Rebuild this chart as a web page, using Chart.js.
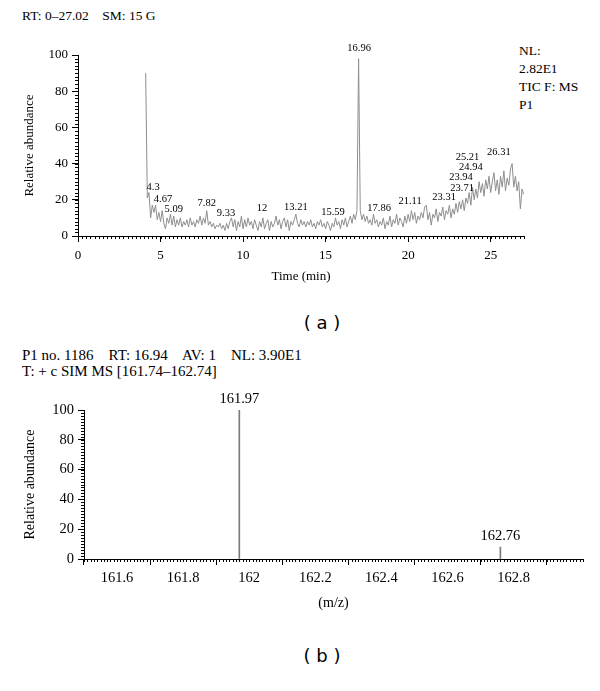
<!DOCTYPE html>
<html>
<head>
<meta charset="utf-8">
<script src="https://cdn.jsdelivr.net/npm/chart.js@4.4.0/dist/chart.umd.min.js"></script>
<style>
  body { margin: 0; background: #fff; width: 600px; height: 691px; position: relative; overflow: hidden;
         font-family: "Liberation Serif", "DejaVu Serif", serif; color: #000; }
  .txt { position: absolute; font-size: 13.5px; line-height: 18px; white-space: pre; }
  .cap { position: absolute; font-family: "DejaVu Sans", sans-serif; font-size: 18px; transform: translate(-50%, -50%); white-space: pre; }
  #wa { position: absolute; left: 0; top: 0; }
  #wb { position: absolute; left: 0; top: 340px; }
</style>
</head>
<body>

<div class="txt" style="left:22px; top:7px;">RT: 0–27.02    SM: 15 G</div>
<div class="txt" style="left:519px; top:42px;">NL:<br>2.82E1<br>TIC F: MS<br>P1</div>
<canvas id="wa" width="600" height="300"></canvas>
<div class="cap" style="left:322px; top:322px;">( a )</div>

<div class="txt" style="left:22px; top:347px; line-height:16px; font-size:15px;">P1 no. 1186    RT: 16.94    AV: 1    NL: 3.90E1<br>T: + c SIM MS [161.74–162.74]</div>
<canvas id="wb" width="600" height="300"></canvas>
<div class="cap" style="left:322px; top:655px;">( b )</div>

<script>
// ---- panel (a): total ion chromatogram ----
const ticStart = 4.1;   // first sampled time (min)
const ticStep = 0.1;    // sampling interval (min)
const ticValues = [
  90, 21, 24, 10, 17, 13, 17, 9, 13,
  8, 14, 7, 4, 10, 7, 12, 6, 11, 5,
  9, 6, 10, 5, 8, 6, 9, 5, 10, 6,
  8, 5, 9, 7, 11, 6, 10, 7, 14, 6,
  8, 5, 7, 4, 6, 5, 7, 4, 6, 3,
  7, 4, 8, 10, 5, 9, 3, 8, 5, 11,
  4, 9, 5, 10, 6, 8, 4, 9, 6, 3,
  8, 5, 10, 4, 7, 9, 3, 8, 5, 7,
  11, 6, 9, 4, 8, 10, 5, 9, 3, 8,
  6, 9, 12, 7, 5, 9, 6, 8, 5, 8,
  6, 9, 5, 7, 4, 8, 6, 9, 5, 7,
  4, 8, 6, 3, 7, 5, 10, 6, 8, 4,
  9, 6, 10, 5, 8, 11, 7, 12, 9, 14,
  98, 14, 9, 12, 8, 11, 7, 9, 6, 12,
  7, 9, 5, 8, 6, 10, 4, 8, 6, 11,
  5, 9, 7, 12, 6, 10, 8, 5, 11, 7,
  12, 8, 14, 9, 13, 7, 11, 9, 13, 10,
  16, 17, 9, 13, 6, 12, 10, 15, 8, 13,
  11, 16, 9, 14, 12, 17, 10, 15, 12, 18,
  13, 19, 15, 20, 14, 21, 18, 24, 17, 27,
  20, 26, 21, 30, 24, 29, 22, 31, 26, 33,
  24, 30, 35, 25, 31, 23, 33, 27, 36, 25,
  32, 28, 37, 40, 27, 33, 25, 30, 15, 26,
  23
];
const timeTicks = [0, 5, 10, 15, 20, 25];
const abundanceTicks = [0, 20, 40, 60, 80, 100];

// peak annotations: text, label centre (time, abundance)
const ticPeakText = ['4.3', '4.67', '5.09', '7.82', '9.33', '12', '13.21', '15.59', '16.96',
  '17.86', '21.11', '23.31', '23.71', '23.94', '24.94', '25.21', '26.31'];
const ticPeakX = [4.55, 5.15, 5.8, 7.8, 8.97, 11.15, 13.2, 15.45, 17.03,
  18.24, 20.12, 22.18, 23.27, 23.2, 23.8, 23.6, 25.5];
const ticPeakY = [27, 20.4, 15, 18, 12.7, 15.5, 16, 13.3, 104,
  15.5, 19.3, 21.5, 26.5, 32.6, 38, 43.6, 46.4];

// ---- panel (b): SIM mass spectrum ----
const mzValues = [161.97, 162.76];
const mzAbundance = [100, 8];
const mzTicks = [161.6, 161.8, 162, 162.2, 162.4, 162.6, 162.8];

const SERIF = '"Liberation Serif", "DejaVu Serif", serif';

const minorTicks = {
  id: 'minorTicks',
  afterDraw(chart, args, opts) {
    const ctx = chart.ctx;
    const xs = chart.scales.x, ys = chart.scales.y;
    ctx.save();
    ctx.strokeStyle = '#000';
    ctx.lineWidth = 1;
    ctx.beginPath();
    let i0 = Math.ceil(xs.min / opts.xStep - 1e-6);
    for (let i = i0; i * opts.xStep <= xs.max + 1e-9; i++) {
      const px = Math.round(xs.getPixelForValue(i * opts.xStep)) + 0.5;
      ctx.moveTo(px, ys.bottom);
      ctx.lineTo(px, ys.bottom + 3);
    }
    for (let i = 0; i * opts.yStep <= ys.max + 1e-9; i++) {
      const py = Math.round(ys.getPixelForValue(i * opts.yStep)) + 0.5;
      ctx.moveTo(xs.left, py);
      ctx.lineTo(xs.left - 3, py);
    }
    ctx.stroke();
    ctx.restore();
  }
};

const peakLabels = {
  id: 'peakLabels',
  afterDatasetsDraw(chart, args, opts) {
    const ctx = chart.ctx;
    const xs = chart.scales.x, ys = chart.scales.y;
    ctx.save();
    ctx.fillStyle = '#000';
    ctx.font = opts.size + 'px ' + SERIF;
    ctx.textAlign = 'center';
    ctx.textBaseline = opts.baseline || 'middle';
    opts.text.forEach((t, i) => {
      const px = xs.getPixelForValue(opts.x[i]);
      const py = ys.getPixelForValue(opts.y[i]) - (opts.lift || 0);
      ctx.fillText(t, px, py);
    });
    ctx.restore();
  }
};

function axisCommon(extra) {
  return Object.assign({
    type: 'linear',
    grid: { drawOnChartArea: false, tickLength: 6, color: '#000', tickColor: '#000', lineWidth: 1 },
    border: { color: '#000', width: 1 }
  }, extra);
}

const ticData = ticValues.map((v, i) => ({ x: ticStart + i * ticStep, y: v }));

new Chart(document.getElementById('wa'), {
  type: 'line',
  data: {
    datasets: [{
      data: ticData,
      borderColor: '#8e8e8e',
      borderWidth: 1,
      pointRadius: 0,
      tension: 0
    }]
  },
  options: {
    responsive: false,
    animation: false,
    layout: { padding: { left: 18, top: 55, right: 76, bottom: 12 } },
    plugins: {
      legend: { display: false },
      tooltip: { enabled: false },
      minorTicks: { xStep: 0.25, yStep: 2 },
      peakLabels: { text: ticPeakText, x: ticPeakX, y: ticPeakY, size: 10.5 }
    },
    scales: {
      x: axisCommon({
        min: 0, max: 27.02,
        afterBuildTicks: s => { s.ticks = timeTicks.map(v => ({ value: v })); },
        afterFit: s => { s.height = 52; },
        ticks: { color: '#000', font: { family: SERIF, size: 13 }, padding: 6, maxRotation: 0, autoSkip: false },
        title: { display: true, text: 'Time (min)', color: '#000', font: { family: SERIF, size: 13 }, padding: 4 }
      }),
      y: axisCommon({
        min: 0, max: 100,
        afterBuildTicks: s => { s.ticks = abundanceTicks.map(v => ({ value: v })); },
        afterFit: s => { s.width = 60; },
        ticks: { color: '#000', font: { family: SERIF, size: 13 }, padding: 4 },
        title: { display: true, text: 'Relative abundance', color: '#000', font: { family: SERIF, size: 13 }, padding: 4 }
      })
    }
  },
  plugins: [minorTicks, peakLabels]
});

new Chart(document.getElementById('wb'), {
  type: 'bar',
  data: {
    datasets: [{
      data: mzValues.map((m, i) => ({ x: m, y: mzAbundance[i] })),
      backgroundColor: '#7a7a7a',
      barThickness: 1,
      borderWidth: 0
    }]
  },
  options: {
    responsive: false,
    animation: false,
    layout: { padding: { left: 18, top: 70, right: 17, bottom: 24 } },
    plugins: {
      legend: { display: false },
      tooltip: { enabled: false },
      minorTicks: { xStep: 0.01, yStep: 2 },
      peakLabels: { text: mzValues.map(m => m.toFixed(2)), x: mzValues, y: mzAbundance, size: 14.5, baseline: 'bottom', lift: 4 }
    },
    scales: {
      x: axisCommon({
        min: 161.5, max: 163.01,
        offset: false,
        afterBuildTicks: s => { s.ticks = mzTicks.map(v => ({ value: v })); },
        afterFit: s => { s.height = 57; },
        ticks: { color: '#000', font: { family: SERIF, size: 14.5 }, padding: 4, maxRotation: 0, autoSkip: false,
                 callback: v => String(Number(v.toFixed(1))) },
        title: { display: true, text: '(m/z)', color: '#000', font: { family: SERIF, size: 14 }, padding: 4 }
      }),
      y: axisCommon({
        min: 0, max: 100,
        afterBuildTicks: s => { s.ticks = abundanceTicks.map(v => ({ value: v })); },
        afterFit: s => { s.width = 66; },
        ticks: { color: '#000', font: { family: SERIF, size: 14.5 }, padding: 4 },
        title: { display: true, text: 'Relative abundance', color: '#000', font: { family: SERIF, size: 14 }, padding: 4 }
      })
    }
  },
  plugins: [minorTicks, peakLabels]
});
</script>
</body>
</html>
